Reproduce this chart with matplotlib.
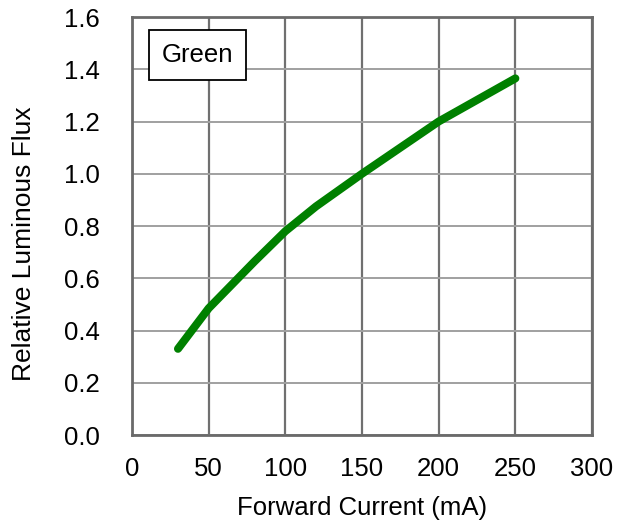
import matplotlib
matplotlib.use("Agg")
import matplotlib.pyplot as plt

# forward current (mA) vs relative luminous flux
current_ma = [30, 50, 80, 100, 120, 150, 200, 250]
rel_flux = [0.33, 0.485, 0.665, 0.78, 0.875, 1.0, 1.2, 1.365]
x_ticks = [0, 50, 100, 150, 200, 250, 300]
y_ticks = [0.0, 0.2, 0.4, 0.6, 0.8, 1.0, 1.2, 1.4, 1.6]

plt.rcParams["font.family"] = ["Liberation Sans", "DejaVu Sans"]
FS = 18.5

fig = plt.figure(figsize=(6.3, 5.25), dpi=100)
ax = fig.add_axes([0.2095, 0.1714, 0.7302, 0.7962])

ax.plot(current_ma, rel_flux, color="#008000", lw=5.8, solid_capstyle="round",
        solid_joinstyle="round")

ax.set_xlim(0, 300)
ax.set_ylim(0, 1.6)
ax.set_xticks(x_ticks)
ax.set_yticks(y_ticks)
ax.set_yticklabels([f"{v:.1f}" for v in y_ticks])
ax.tick_params(axis="y", length=0, labelsize=FS, pad=23)
ax.tick_params(axis="x", length=0, labelsize=FS, pad=16)

ax.xaxis.grid(True, color="#707070", lw=1.6)
ax.yaxis.grid(True, color="#a0a0a0", lw=1.4)
ax.set_axisbelow(True)
for s in ax.spines.values():
    s.set_color("#6a6a6a")
    s.set_linewidth(2)

ax.set_xlabel("Forward Current (mA)", fontsize=FS, va="center")
ax.set_ylabel("Relative Luminous Flux", fontsize=19, va="center")
ax.xaxis.set_label_coords(0.5, -0.175)
ax.yaxis.set_label_coords(-0.235, 0.457)

ax.text(0.143, 0.909, "Green", transform=ax.transAxes, fontsize=FS,
        ha="center", va="center",
        bbox=dict(boxstyle="square,pad=0.5", fc="white", ec="black", lw=1.3))

fig.savefig("out.png", dpi=100)
